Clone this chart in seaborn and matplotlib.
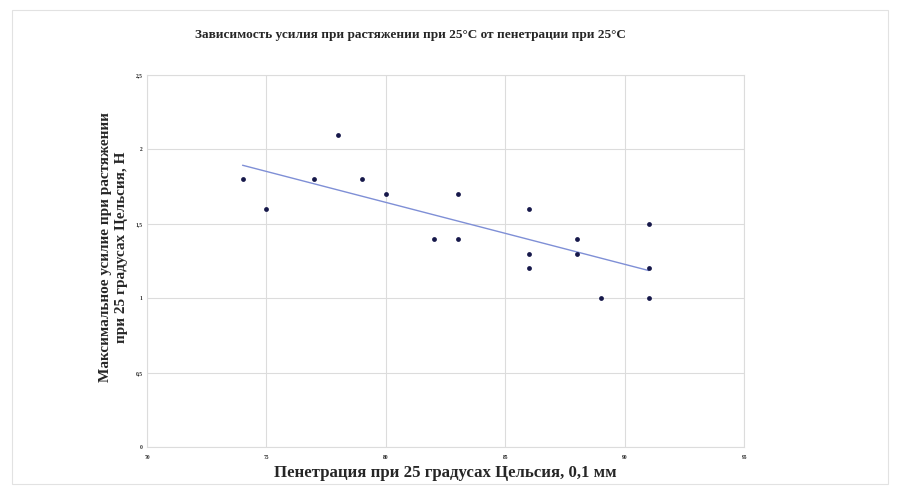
import numpy as np
import pandas as pd
import matplotlib
matplotlib.use("Agg")
import matplotlib.pyplot as plt
import seaborn as sns

# penetration at 25 C, 0.1 mm
penetration = [74, 75, 77, 78, 79, 80, 82, 83, 83, 86, 86, 86, 88, 88, 89, 91, 91, 91]
# max tensile force at 25 C, N
force = [1.8, 1.6, 1.8, 2.1, 1.8, 1.7, 1.4, 1.7, 1.4, 1.6, 1.3, 1.2, 1.4, 1.3, 1.0, 1.5, 1.2, 1.0]

x_ticks = [70, 75, 80, 85, 90, 95]
y_ticks = [0, 0.5, 1, 1.5, 2, 2.5]
y_tick_labels = ["0", "0,5", "1", "1,5", "2", "2,5"]

df = pd.DataFrame({"pen": penetration, "force": force})

sns.set_style("white")
plt.rcParams["font.family"] = ["Liberation Serif", "DejaVu Serif"]

fig = plt.figure(figsize=(9.02, 4.96), dpi=100)
ax = fig.add_axes([0.163, 0.0988, 0.662, 0.75])

sns.regplot(data=df, x="pen", y="force", ax=ax, ci=None,
            scatter_kws={"s": 12, "color": "#16184a", "linewidths": 0, "alpha": 1, "zorder": 3},
            line_kws={"color": "#7f8fd6", "linewidth": 1.0, "zorder": 2})

ax.set_xlim(70, 95)
ax.set_ylim(0, 2.5)
ax.set_xticks(x_ticks)
ax.set_xticklabels([str(t) for t in x_ticks], fontsize=4, fontweight="bold")
ax.set_yticks(y_ticks)
ax.set_yticklabels(y_tick_labels, fontsize=4, fontweight="bold")
ax.tick_params(axis="x", length=0, pad=5.5)
ax.tick_params(axis="y", length=0, pad=3)
ax.grid(True, color="#dcdcdc", linewidth=0.8)
for s in ax.spines.values():
    s.set_color("#dcdcdc")
    s.set_linewidth(0.8)

ax.set_xlabel("Пенетрация при 25 градусах Цельсия, 0,1 мм",
              fontsize=12.1, fontweight="bold")
ax.xaxis.set_label_coords(0.5, -0.048)
ax.set_ylabel("Максимальное усилие при растяжении\nпри 25 градусах Цельсия, Н",
              fontsize=11, fontweight="bold", linespacing=1.3)
ax.yaxis.set_label_coords(-0.032, 0.538)
fig.text(0.455, 0.929, "Зависимость усилия при растяжении при 25°C от пенетрации при 25°C",
         ha="center", va="center", fontsize=9.5, fontweight="bold")

fig.patches.append(plt.Rectangle((0.013, 0.025), 0.972, 0.955, transform=fig.transFigure,
                                 fill=False, edgecolor="#e2e2e2", linewidth=0.8))

fig.savefig("out.png", dpi=100)
